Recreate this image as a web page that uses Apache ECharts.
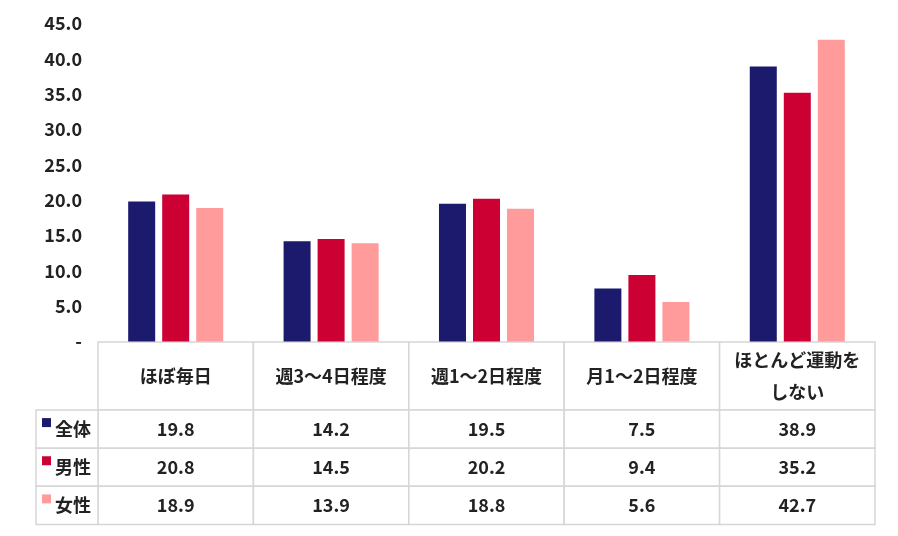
<!DOCTYPE html>
<html>
<head>
<meta charset="utf-8">
<script src="https://cdn.jsdelivr.net/npm/echarts@6/dist/echarts.min.js"></script>
<style>html,body{margin:0;padding:0;background:#fff;}#c{width:898px;height:536px;}</style>
</head>
<body>
<div id="c"></div>
<script>
const categories = ['ほぼ毎日', '週3～4日程度', '週1～2日程度', '月1～2日程度', 'ほとんど運動を\nしない'];
const seriesNames = ['全体', '男性', '女性'];
const totalValues = [19.8, 14.2, 19.5, 7.5, 38.9];
const maleValues = [20.8, 14.5, 20.2, 9.4, 35.2];
const femaleValues = [18.9, 13.9, 18.8, 5.6, 42.7];
const yMin = 0, yMax = 45, yInterval = 5;

const colors = ['#1b1a6c', '#cc0033', '#ff9b9b'];
const FONT = '"Noto Sans CJK JP", "Noto Sans", sans-serif';
const TXT = '#222222';
const BORDER = '#d6d6d6';
const seriesValues = [totalValues, maleValues, femaleValues];

const chart = echarts.init(document.getElementById('c'), null, {renderer: 'canvas'});

const cellData = [];
seriesValues.forEach((vals, r) => vals.forEach((v, c) => cellData.push([c, r, v])));

function cellRect(api, ci, ri) {
  const p = api.coord([ci, ri]);
  const s = api.size([1, 1]);
  return {x: p[0] - s[0] / 2, y: p[1] - s[1] / 2, width: s[0], height: s[1], cx: p[0], cy: p[1]};
}

const option = {
  backgroundColor: '#ffffff',
  animation: false,
  grid: [
    {left: 98, right: 23, top: 23.5, bottom: 194.5},
    {left: 98, right: 23, top: 342, height: 68},
    {left: 98, right: 23, top: 410, height: 114.5}
  ],
  xAxis: [
    {gridIndex: 0, type: 'category', data: categories, axisLine: {show: false}, axisTick: {show: false}, axisLabel: {show: false}},
    {gridIndex: 1, type: 'category', data: categories, show: false},
    {gridIndex: 2, type: 'category', data: categories, show: false}
  ],
  yAxis: [
    {gridIndex: 0, type: 'value', min: yMin, max: yMax, interval: yInterval,
      splitLine: {show: false}, axisLine: {show: false}, axisTick: {show: false},
      axisLabel: {margin: 16, color: TXT, fontSize: 18, fontWeight: 'bold', fontFamily: FONT,
        formatter: v => v === 0 ? '-' : v.toFixed(1)}},
    {gridIndex: 1, type: 'category', data: ['header'], show: false},
    {gridIndex: 2, type: 'category', data: seriesNames, inverse: true, show: false}
  ],
  series: [
    ...seriesNames.map((name, i) => ({
      name, type: 'bar', xAxisIndex: 0, yAxisIndex: 0,
      data: seriesValues[i], barWidth: 27, barGap: '26%',
      itemStyle: {color: colors[i]}
    })),
    {
      type: 'custom', xAxisIndex: 1, yAxisIndex: 1, clip: false,
      data: categories.map((c, i) => [i, 0]),
      renderItem(params, api) {
        const ci = api.value(0);
        const r = cellRect(api, ci, 0);
        return {type: 'group', children: [
          {type: 'rect', shape: {x: r.x, y: r.y, width: r.width, height: r.height},
            style: {fill: '#fff', stroke: BORDER, lineWidth: 1.5}},
          {type: 'text', style: {text: categories[ci], x: r.cx, y: r.cy, align: 'center', verticalAlign: 'middle',
            fontSize: 18, fontWeight: 'bold', fontFamily: FONT, fill: TXT, lineHeight: 32}}
        ]};
      }
    },
    {
      type: 'custom', xAxisIndex: 2, yAxisIndex: 2, clip: false,
      data: cellData,
      renderItem(params, api) {
        const r = cellRect(api, api.value(0), api.value(1));
        return {type: 'group', children: [
          {type: 'rect', shape: {x: r.x, y: r.y, width: r.width, height: r.height},
            style: {fill: '#fff', stroke: BORDER, lineWidth: 1.5}},
          {type: 'text', style: {text: api.value(2).toFixed(1), x: r.cx, y: r.cy, align: 'center', verticalAlign: 'middle',
            fontSize: 18, fontWeight: 'bold', fontFamily: FONT, fill: TXT}}
        ]};
      }
    },
    {
      type: 'custom', xAxisIndex: 2, yAxisIndex: 2, clip: false,
      data: seriesNames.map((n, r) => [0, r]),
      renderItem(params, api) {
        const ri = api.value(1);
        const r = cellRect(api, 0, ri);
        const w = 62;
        const x0 = r.x - w;
        return {type: 'group', children: [
          {type: 'rect', shape: {x: x0, y: r.y, width: w, height: r.height},
            style: {fill: '#fff', stroke: BORDER, lineWidth: 1.5}},
          {type: 'rect', shape: {x: x0 + 6, y: r.cy - 11, width: 9, height: 9},
            style: {fill: colors[ri]}},
          {type: 'text', style: {text: seriesNames[ri], x: x0 + 19, y: r.cy, align: 'left', verticalAlign: 'middle',
            fontSize: 18, fontWeight: 'bold', fontFamily: FONT, fill: TXT}}
        ]};
      }
    }
  ]
};
chart.setOption(option);
</script>
</body>
</html>
